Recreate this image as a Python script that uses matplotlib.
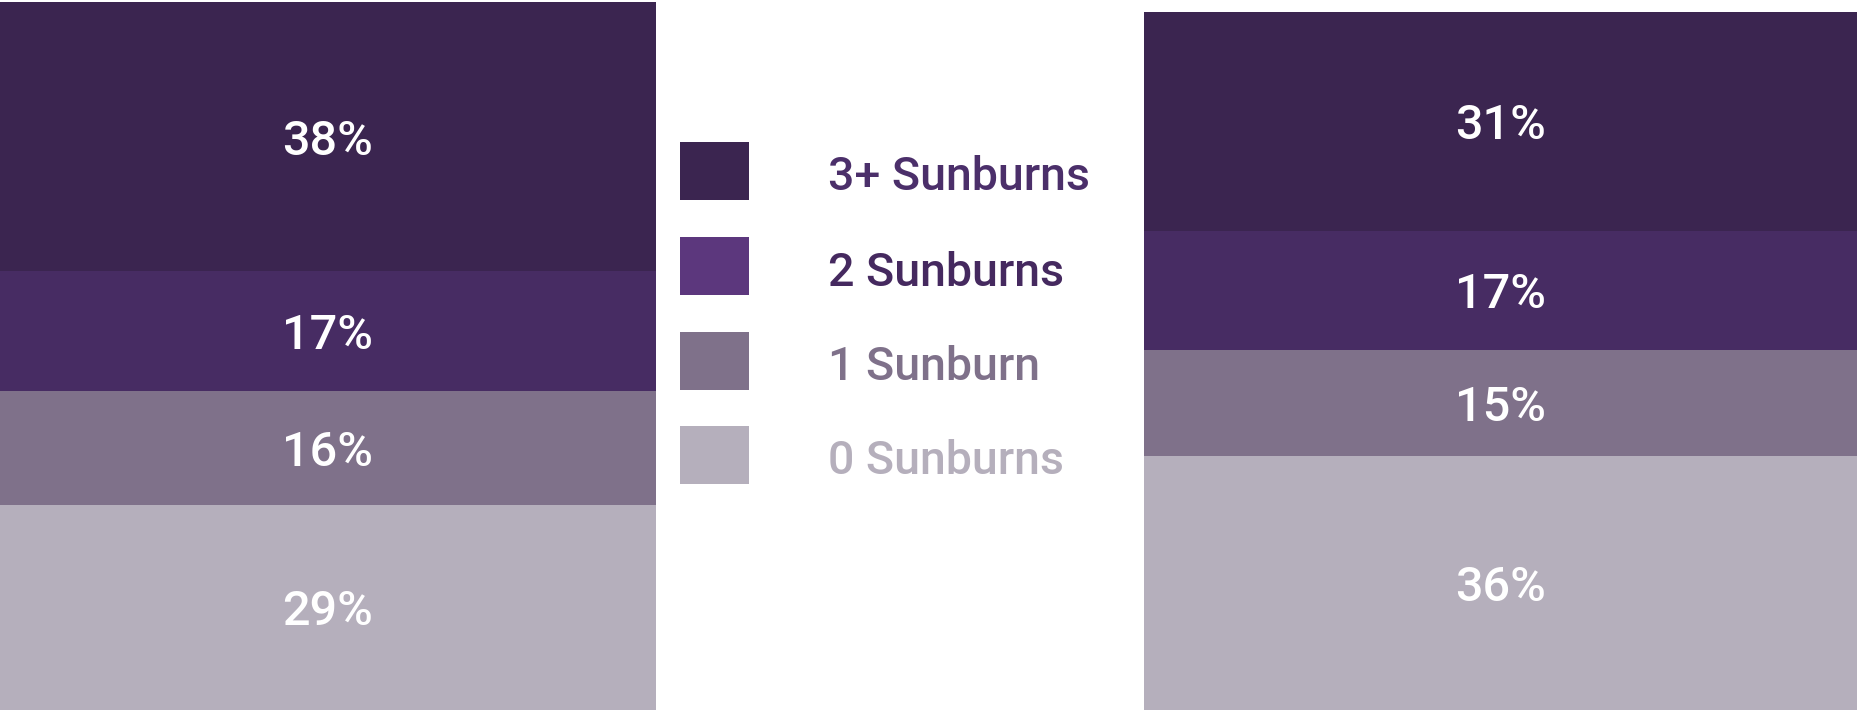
import matplotlib.pyplot as plt
from matplotlib.patches import Rectangle

# categorías (de abajo hacia arriba)
categorias = ["0 Sunburns", "1 Sunburn", "2 Sunburns", "3+ Sunburns"]
izquierda = [29, 16, 17, 38]
derecha = [36, 15, 17, 31]

colores_barra = ["#b5afbc", "#7f718a", "#472c63", "#3b2550"]
colores_muestra = ["#b5afbc", "#7f718a", "#5c377d", "#3b2550"]
colores_texto = ["#b5afbc", "#7f718a", "#45295f", "#4b2f6a"]

plt.rcParams['font.family'] = ['Roboto', 'DejaVu Sans']

W, H = 1857, 710
fig = plt.figure(figsize=(W / 100, H / 100), dpi=100)


def barra(x0, x1, top, valores):
    ax = fig.add_axes([x0 / W, 0, (x1 - x0) / W, (H - top) / H])
    total = sum(valores)
    abajo = 0
    for v, c in zip(valores, colores_barra):
        ax.bar(0, v, bottom=abajo, width=1, color=c, linewidth=0)
        ax.text(0, abajo + v / 2, f"{v}%", ha="center", va="center_baseline",
                color="white", fontsize=35, fontweight="medium")
        abajo += v
    ax.set_xlim(-0.5, 0.5)
    ax.set_ylim(0, total)
    ax.axis("off")


barra(0, 656, 2, izquierda)
barra(1144, W, 12, derecha)

# leyenda dibujada a mano
leg = fig.add_axes([0, 0, 1, 1])
leg.set_xlim(0, W)
leg.set_ylim(H, 0)
leg.axis("off")
filas_y = [455, 361, 266, 171]
for i, cat in enumerate(categorias):
    y = filas_y[i]
    leg.add_patch(Rectangle((680, y - 29), 69, 58, color=colores_muestra[i], lw=0))
    leg.text(828, y + 2, cat, ha="left", va="center_baseline", fontsize=33.5,
             fontweight="medium", color=colores_texto[i])

fig.savefig("out.png", dpi=100)
